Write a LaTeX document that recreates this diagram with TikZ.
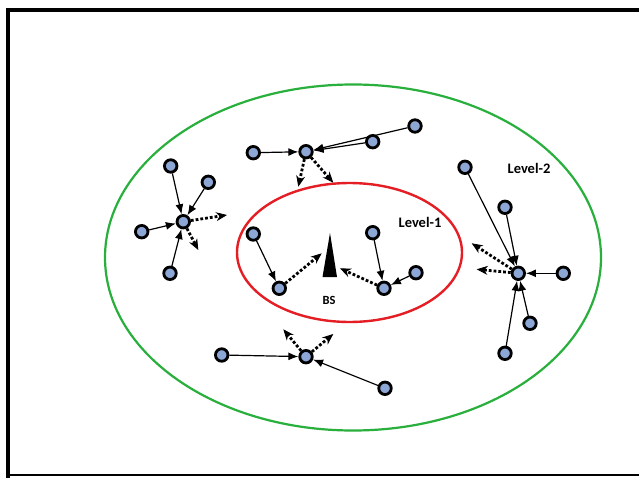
\documentclass[tikz,border=0pt]{standalone}
\usepackage{fontspec}
\setmainfont{Carlito}
\usetikzlibrary{arrows.meta}
\definecolor{nodeblue}{RGB}{140,166,214}
\definecolor{ringgreen}{RGB}{40,175,60}
\definecolor{ringred}{RGB}{228,30,36}
\tikzset{
  sensor/.style={circle,draw=black,line width=2.8pt,fill=nodeblue,minimum size=12.5pt,inner sep=0pt},
  link/.style={line width=1.2pt,-{Latex[length=10pt,width=8pt]}},
  hop/.style={line width=2.8pt,dotted,-{Stealth[length=11pt,width=9pt,line width=0.8pt]}},
  lbl/.style={font=\bfseries,text=black}
}
\begin{document}
\begin{tikzpicture}[x=1pt,y=-1pt]
\useasboundingbox (0,0) rectangle (639,478);
\fill[white] (0,0) rectangle (639,478);
% frame
\draw[line width=4pt] (8,478) -- (8,10) -- (645,10);
\draw[line width=2pt] (8,475) -- (645,475);
% rings
\draw[ringgreen,line width=2.2pt] (353,257.5) ellipse [x radius=248, y radius=173];
\draw[ringred,line width=2.4pt] (349.5,252.5) ellipse [x radius=112.5, y radius=69.5];
% base station
\fill (330,233) -- (337,277) -- (322.5,277) -- cycle;
\coordinate (bsL) at (321.7,253.3);
\coordinate (bsR) at (340,268.3);
\node[lbl,font=\bfseries\fontsize{12.5}{14}\selectfont] (bs) at (329,300) {BS};
\node[lbl,font=\bfseries\fontsize{14.5}{16}\selectfont] (l1) at (420,222) {Level-1};
\node[lbl,font=\bfseries\fontsize{14.5}{16}\selectfont] (l2) at (529,168) {Level-2};
% cluster left
\node[sensor] (c1) at (183.3,221.7) {};
\node[sensor] (c1a) at (170.7,166) {};
\node[sensor] (c1b) at (208.3,182.3) {};
\node[sensor] (c1c) at (141.7,231.7) {};
\node[sensor] (c1d) at (170,273.3) {};
\foreach \n in {c1a,c1b,c1c,c1d} \draw[link] (\n) -- (c1);
\coordinate (c1x) at (227,215);
\coordinate (c1y) at (198.3,250);
\draw[hop] (c1) -- (c1x);
\draw[hop] (c1) -- (c1y);
% cluster top
\node[sensor] (c2) at (306,151.7) {};
\node[sensor] (c2a) at (253.3,152.7) {};
\node[sensor] (c2b) at (372.7,141.7) {};
\node[sensor] (c2c) at (415,126) {};
\foreach \n in {c2a,c2b,c2c} \draw[link] (\n) -- (c2);
\coordinate (c2x) at (298.3,186.7);
\coordinate (c2y) at (333.3,182.7);
\draw[hop] (c2) -- (c2x);
\draw[hop] (c2) -- (c2y);
% level-1 nodes
\node[sensor] (a) at (253.3,234) {};
\node[sensor] (b) at (279.3,288.3) {};
\node[sensor] (d) at (372.7,232.7) {};
\node[sensor] (e) at (384,288.3) {};
\node[sensor] (f) at (416,272.7) {};
\draw[link] (a) -- (b);
\draw[link] (d) -- (e);
\draw[link] (f) -- (e);
\draw[hop] (b) -- (bsL);
\draw[hop] (e) -- (bsR);
% cluster right
\node[sensor] (c4) at (518.3,273.3) {};
\node[sensor] (c4a) at (465,167.3) {};
\node[sensor] (c4b) at (505,207.3) {};
\node[sensor] (c4c) at (563.3,273.3) {};
\node[sensor] (c4d) at (530,323.3) {};
\node[sensor] (c4e) at (505,353.3) {};
\foreach \n in {c4a,c4b,c4c,c4d,c4e} \draw[link] (\n) -- (c4);
\coordinate (c4x) at (471.7,243.3);
\coordinate (c4y) at (476.7,269.3);
\draw[hop] (c4) -- (c4x);
\draw[hop] (c4) -- (c4y);
% cluster bottom
\node[sensor] (c5) at (306,356.7) {};
\node[sensor] (c5a) at (221.7,355) {};
\node[sensor] (c5b) at (385,388.3) {};
\draw[link] (c5a) -- (c5);
\draw[link] (c5b) -- (c5);
\coordinate (c5x) at (283.3,329.3);
\coordinate (c5y) at (333.3,334);
\draw[hop] (c5) -- (c5x);
\draw[hop] (c5) -- (c5y);
\end{tikzpicture}
\end{document}
